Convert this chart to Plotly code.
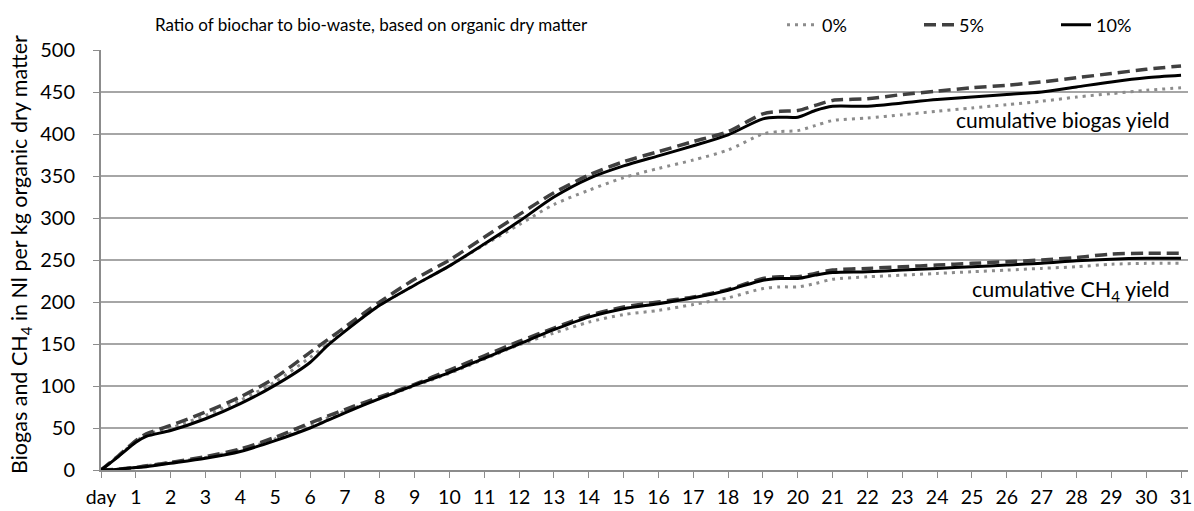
import plotly.graph_objects as go

# ---- data ----
days = [0, 0.5, 1, 1.3, 2, 3, 4, 5, 6, 6.5, 7, 8, 9, 10, 11, 12, 13, 14, 15, 16, 17, 18,
        19, 19.5, 20, 20.5, 21, 22, 23, 24, 25, 26, 27, 28, 29, 30, 31]

biogas_0 = [0, 17, 34, 42, 50, 65, 83, 105, 134, 150, 166, 196, 220, 243, 268, 292, 316, 333,
            348, 359, 369, 381, 400, 403, 404, 410, 416, 419, 423, 427, 431, 435, 439, 444,
            448, 452, 455]
biogas_5 = [0, 17, 35, 43, 53, 69, 87, 110, 140, 155, 170, 200, 227, 250, 277, 304, 330, 351,
            367, 379, 391, 403, 424, 427, 428, 434, 440, 442, 447, 451, 455, 458, 462, 467,
            472, 477, 481]
biogas_10 = [0, 16, 33, 40, 47, 61, 79, 101, 128, 148, 165, 196, 220, 243, 269, 296, 325, 347,
             362, 374, 386, 399, 418, 420, 420, 428, 433, 433, 437, 441, 444, 447, 450, 456,
             462, 467, 470]

ch4_0 = [0, 1, 3, 5, 9, 15, 24, 37, 53, 62, 70, 85, 100, 115, 132, 149, 163, 176, 185, 190,
         197, 205, 216, 218, 218, 222, 227, 230, 232, 234, 236, 238, 240, 242, 245, 246, 246]
ch4_5 = [0, 1, 3, 5, 9, 16, 25, 39, 56, 64, 72, 87, 102, 119, 136, 153, 169, 184, 194, 200,
         206, 215, 228, 230, 230, 234, 238, 240, 242, 244, 246, 248, 250, 253, 257, 258, 258]
ch4_10 = [0, 1, 3, 4, 8, 14, 22, 35, 50, 59, 68, 85, 101, 116, 133, 150, 167, 182, 192, 198,
          205, 214, 226, 228, 228, 232, 235, 236, 238, 240, 242, 244, 246, 249, 251, 252, 252]

series_names = ["0%", "5%", "10%"]
tick_days = list(range(0, 32))
tick_text = ["day"] + [str(d) for d in range(1, 32)]

FONT = "Lato, 'Open Sans', sans-serif"
styles = {
    "0%": dict(color="#8c8c8c", width=3, dash="3px,5px"),
    "5%": dict(color="#404040", width=3.5, dash="12px,6px"),
    "10%": dict(color="#000000", width=3, dash="solid"),
}

fig = go.Figure()
for name, yb, yc in zip(series_names, [biogas_0, biogas_5, biogas_10], [ch4_0, ch4_5, ch4_10]):
    st = styles[name]
    fig.add_trace(go.Scatter(x=days, y=yb, mode="lines", name=name, legendgroup=name,
                             line=dict(color=st["color"], width=st["width"], dash=st["dash"],
                                       shape="spline", smoothing=0.8)))
    fig.add_trace(go.Scatter(x=days, y=yc, mode="lines", name=name, legendgroup=name,
                             showlegend=False,
                             line=dict(color=st["color"], width=st["width"], dash=st["dash"],
                                       shape="spline", smoothing=0.8)))

fig.update_layout(
    width=1194, height=511,
    margin=dict(l=101, r=6, t=50, b=41, autoexpand=False),
    paper_bgcolor="white", plot_bgcolor="white",
    font=dict(family=FONT, size=20, color="#000000"),
    showlegend=True,
    legend=dict(orientation="h", x=(782 - 101) / 1087, y=(470 - 25) / 420,
                xanchor="left", yanchor="middle",
                font=dict(family=FONT, size=18, color="#000"),
                entrywidth=92, entrywidthmode="pixels", bgcolor="rgba(0,0,0,0)"),
    xaxis=dict(range=[0, 31.2], tickvals=tick_days, ticktext=tick_text,
               showgrid=False, zeroline=False,
               showline=True, linecolor="#8c8c8c", linewidth=2,
               ticks="outside", ticklen=6, tickcolor="#8c8c8c", tickwidth=1,
               ticklabelstandoff=3,
               tickfont=dict(family=FONT, size=19.5, color="#000")),
    yaxis=dict(range=[0, 500], tickvals=list(range(0, 501, 50)),
               showgrid=True, gridcolor="#a6a6a6", gridwidth=1.5,
               zeroline=False, showline=True, linecolor="#8c8c8c", linewidth=2,
               ticks="outside", ticklen=6, tickcolor="#8c8c8c", tickwidth=1,
               ticklabelstandoff=14,
               tickfont=dict(family=FONT, size=20, color="#000")),
    annotations=[
        dict(text="Ratio of biochar to bio-waste, based on organic dry matter",
             xref="paper", yref="paper", x=(153 - 101) / 1087, y=(470 - 25) / 420,
             xanchor="left", yanchor="middle", showarrow=False,
             font=dict(family=FONT, size=17, color="#000")),
        dict(text="Biogas and CH<sub>4</sub> in Nl per kg organic dry matter",
             xref="paper", yref="paper", x=(21 - 101) / 1087, y=0.512,
             xanchor="center", yanchor="middle", textangle=-90, showarrow=False,
             font=dict(family=FONT, size=21.5, color="#000")),
        dict(text="cumulative biogas yield", xref="x", yref="y", x=30.75, y=417,
             xanchor="right", yanchor="middle", showarrow=False,
             font=dict(family=FONT, size=21, color="#000")),
        dict(text="cumulative CH<sub>4</sub> yield", xref="x", yref="y", x=30.75, y=214,
             xanchor="right", yanchor="middle", showarrow=False,
             font=dict(family=FONT, size=21.5, color="#000")),
    ],
)

fig.write_html("out.html", config={"displayModeBar": False},
               post_script="document.body.style.margin='0px';")
